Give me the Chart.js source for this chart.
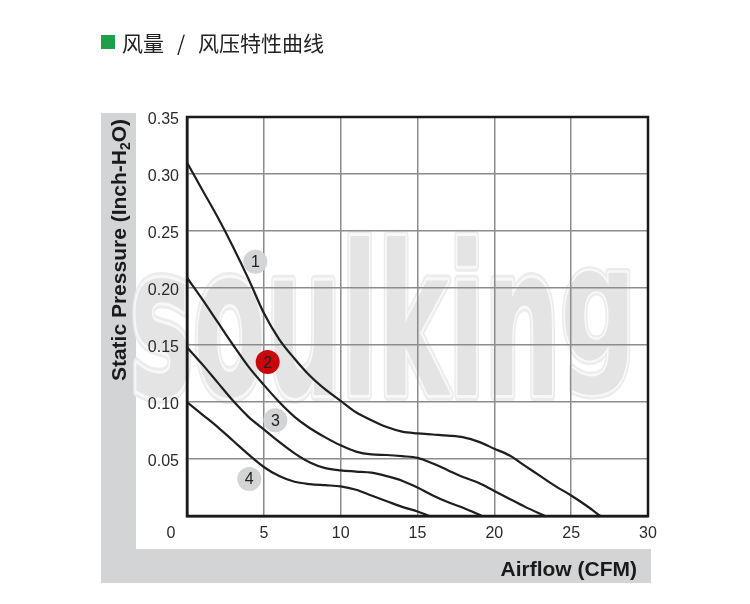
<!DOCTYPE html>
<html>
<head>
<meta charset="utf-8">
<script src="https://cdn.jsdelivr.net/npm/chart.js@4.4.1/dist/chart.umd.min.js"></script>
<style>
  body { margin: 0; background: #fff; }
  #wrap { position: relative; width: 750px; height: 604px; }
  #chart { position: absolute; left: 0; top: 0; }
  .hd { position: absolute; font-family: "Noto Sans CJK SC", sans-serif; font-size: 21px; line-height: 21px; color: #222; top: 32px; white-space: nowrap; }
  #sq { position: absolute; left: 101px; top: 35px; width: 14px; height: 14px; background: #1e9f4a; }
</style>
</head>
<body>
<div id="wrap">
  <canvas id="chart" width="750" height="604"></canvas>
  <div id="sq"></div>
  <div class="hd" style="left:122px">风量</div>
  <div class="hd" style="left:177px">/</div>
  <div class="hd" style="left:198px">风压特性曲线</div>
</div>
<script>
// curve 1..4
const airflow1 = [0, 1, 2, 3, 4, 5, 6, 7, 8, 9, 10, 11, 12, 13, 14, 15, 16, 17, 18, 19, 20, 21, 22, 23, 24, 25, 26, 26.9];
const pressure1 = [0.31, 0.286, 0.262, 0.236, 0.208, 0.178, 0.155, 0.138, 0.123, 0.111, 0.101, 0.091, 0.084, 0.078, 0.074, 0.0725, 0.0715, 0.0705, 0.069, 0.065, 0.059, 0.053, 0.044, 0.035, 0.026, 0.018, 0.009, 0];

const airflow2 = [0, 1, 2, 3, 4, 5, 6, 7, 8, 9, 10, 11, 12, 13, 14, 15, 16, 17, 18, 19, 20, 21, 22, 23.3];
const pressure2 = [0.209, 0.19, 0.170, 0.150, 0.131, 0.115, 0.100, 0.087, 0.077, 0.069, 0.062, 0.0565, 0.054, 0.0535, 0.0525, 0.051, 0.046, 0.040, 0.034, 0.029, 0.022, 0.015, 0.008, 0];

const airflow3 = [0, 1, 2, 3, 4, 5, 6, 7, 8, 9, 10, 11, 12, 13, 14, 15, 16, 17, 18, 19.2];
const pressure3 = [0.148, 0.133, 0.117, 0.101, 0.087, 0.076, 0.065, 0.055, 0.047, 0.042, 0.040, 0.039, 0.038, 0.035, 0.031, 0.025, 0.018, 0.012, 0.007, 0];

const airflow4 = [0, 1, 2, 3, 4, 5, 6, 7, 8, 9, 10, 11, 12, 13, 14, 15, 15.8];
const pressure4 = [0.100, 0.089, 0.078, 0.066, 0.054, 0.043, 0.035, 0.030, 0.028, 0.027, 0.026, 0.023, 0.018, 0.013, 0.008, 0.004, 0];

// numbered badges
const markerX = [4.45, 5.25, 5.75, 4.05];
const markerY = [0.223, 0.135, 0.084, 0.0325];
const markerLabels = ['1', '2', '3', '4'];
const markerColors = ['#d3d4d5', '#c8060c', '#d3d4d5', '#d3d4d5'];

const xTicks = [0, 5, 10, 15, 20, 25, 30];

function pts(xs, ys) {
  return xs.map((x, i) => ({ x: x, y: ys[i] }));
}

function curve(xs, ys) {
  return {
    data: pts(xs, ys),
    showLine: true,
    borderColor: '#1e1e1e',
    borderWidth: 2.2,
    pointRadius: 0,
    cubicInterpolationMode: 'monotone',
    order: 1
  };
}

const framePlugin = {
  id: 'frame',
  beforeDraw(chart) {
    const ctx = chart.ctx;
    ctx.save();
    // grey L-shaped band
    ctx.fillStyle = '#d3d4d5';
    ctx.fillRect(101, 113, 35, 470);
    ctx.fillRect(101, 549, 550, 34);

    // watermark
    ctx.font = 'bold 208px "DejaVu Sans"';
    ctx.lineJoin = 'round';
    ctx.translate(130, 395);
    ctx.scale(0.51, 1);
    const w = ctx.measureText('soulkin').width;
    const paint = (t) => {
      ctx.strokeStyle = '#ececec';
      ctx.lineWidth = 12;
      ctx.strokeText(t, 0, 0);
      ctx.strokeStyle = '#f8f8f8';
      ctx.lineWidth = 6;
      ctx.strokeText(t, 0, 0);
      ctx.fillStyle = '#e4e4e4';
      ctx.fillText(t, 0, 0);
    };
    paint('soulkin');
    ctx.translate(w, -35);
    ctx.scale(1, 0.77);
    paint('g');
    ctx.restore();
  },
  afterDatasetsDraw(chart) {
    const ctx = chart.ctx;
    const a = chart.chartArea;
    const xs = chart.scales.x, ys = chart.scales.y;
    ctx.save();
    ctx.strokeStyle = '#1a1a1a';
    ctx.lineWidth = 2.5;
    ctx.strokeRect(a.left, a.top, a.right - a.left, a.bottom - a.top);

    ctx.font = '16px "Liberation Sans"';
    ctx.fillStyle = '#222';
    ctx.textAlign = 'center';
    ctx.textBaseline = 'middle';
    markerLabels.forEach((t, i) => {
      ctx.fillText(t, xs.getPixelForValue(markerX[i]), ys.getPixelForValue(markerY[i]) + 1);
    });
    ctx.restore();
  },
  afterDraw(chart) {
    const ctx = chart.ctx;
    ctx.save();
    // origin label
    ctx.font = '16px "Liberation Sans"';
    ctx.fillStyle = '#2b2b2b';
    ctx.textAlign = 'center';
    ctx.textBaseline = 'middle';
    ctx.fillText('0', 171, 534);

    // x title
    ctx.fillStyle = '#1a1a1a';
    ctx.font = 'bold 21px "Liberation Sans"';
    ctx.textAlign = 'right';
    ctx.textBaseline = 'alphabetic';
    ctx.fillText('Airflow (CFM)', 637, 576);

    // y title with subscript
    ctx.translate(118, 250);
    ctx.rotate(-Math.PI / 2);
    ctx.textAlign = 'left';
    const big = 'bold 21px "Liberation Sans"', small = 'bold 14px "Liberation Sans"';
    const p1 = 'Static Pressure (Inch-H', p2 = '2', p3 = 'O)';
    ctx.font = big;
    const w1 = ctx.measureText(p1).width, w3 = ctx.measureText(p3).width;
    ctx.font = small;
    const w2 = ctx.measureText(p2).width;
    let x = -(w1 + w2 + w3) / 2;
    ctx.font = big;
    ctx.fillText(p1, x, 7.5);
    x += w1;
    ctx.font = small;
    ctx.fillText(p2, x, 11.5);
    x += w2;
    ctx.font = big;
    ctx.fillText(p3, x, 7.5);
    ctx.restore();
  }
};

const data = {
  datasets: [
    curve(airflow1, pressure1),
    curve(airflow2, pressure2),
    curve(airflow3, pressure3),
    curve(airflow4, pressure4),
    {
      data: pts(markerX, markerY),
      pointRadius: 12,
      pointHoverRadius: 12,
      pointBackgroundColor: markerColors,
      pointBorderWidth: 0,
      showLine: false,
      order: 0
    }
  ]
};

const options = {
  responsive: false,
  animation: false,
  layout: { padding: { left: 0, right: 102, top: 117, bottom: 0 } },
  plugins: { legend: { display: false }, tooltip: { enabled: false } },
  scales: {
    x: {
      type: 'linear',
      min: 0,
      max: 30,
      afterFit(s) { s.height = 88; },
      afterBuildTicks(s) { s.ticks = xTicks.map(v => ({ value: v })); },
      grid: { color: '#8c8c8c', lineWidth: 1.5, drawTicks: false },
      border: { color: '#1a1a1a', width: 2.5 },
      ticks: {
        padding: 8,
        color: '#2b2b2b',
        font: { family: 'Liberation Sans', size: 16 },
        callback: v => (v === 0 ? '' : v)
      }
    },
    y: {
      min: 0,
      max: 0.35,
      afterFit(s) { s.width = 187; },
      grid: { color: '#8c8c8c', lineWidth: 1.5, drawTicks: false },
      border: { color: '#1a1a1a', width: 2.5 },
      ticks: {
        stepSize: 0.05,
        padding: 8,
        labelOffset: 3,
        color: '#2b2b2b',
        font: { family: 'Liberation Sans', size: 16 },
        callback: v => (v === 0 ? '' : v.toFixed(2))
      }
    }
  }
};

const config = {
  type: 'scatter',
  data: data,
  options: options,
  plugins: [framePlugin]
};

const ctx = document.getElementById('chart');
var myChart = new Chart(ctx, config);
</script>
</body>
</html>
